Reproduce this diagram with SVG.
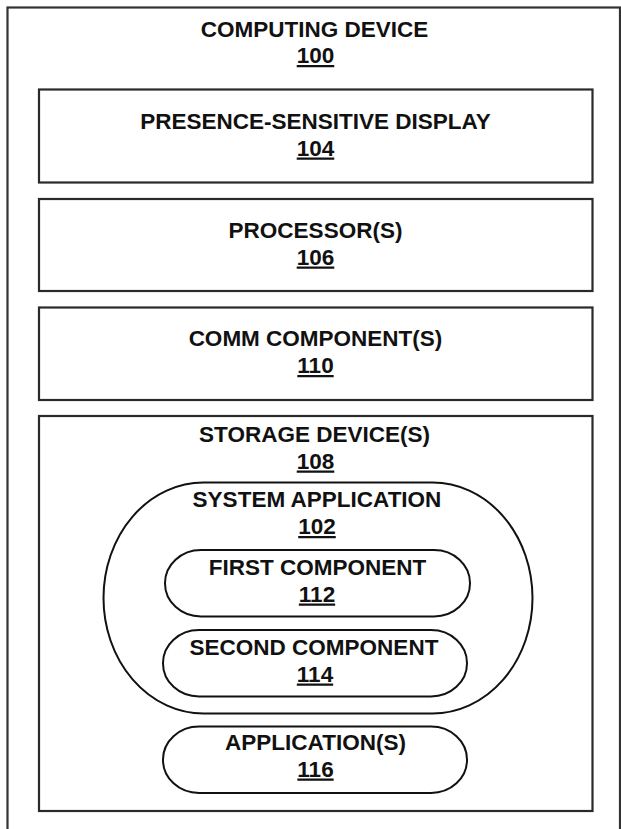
<svg xmlns="http://www.w3.org/2000/svg" width="621" height="829" viewBox="0 0 621 829">
  <style>
    .box { fill: none; stroke: #2a2a2a; stroke-width: 2.2; }
    .pill { fill: none; stroke: #111; stroke-width: 2; }
    .outer { fill: none; stroke: #333; stroke-width: 2.2; }
    text { font-family: "Liberation Sans", Arial, sans-serif; font-weight: bold; font-size: 22.5px; fill: #111; text-anchor: middle; }
    .num { text-decoration: underline; }
  </style>
  <rect width="621" height="829" fill="#ffffff"/>
  <g id="computing-device-100">
    <rect class="outer" x="7.5" y="7.5" width="612.5" height="824"/>
    <text x="314.5" y="36.5">COMPUTING DEVICE</text>
    <text class="num" x="315.5" y="63">100</text>
  </g>
  <g id="presence-sensitive-display-104">
    <rect class="box" x="39" y="89.5" width="553.5" height="93"/>
    <text x="315.5" y="128.5">PRESENCE-SENSITIVE DISPLAY</text>
    <text class="num" x="315.5" y="155.5">104</text>
  </g>
  <g id="processors-106">
    <rect class="box" x="39" y="199" width="553.5" height="92"/>
    <text x="315.5" y="237.5">PROCESSOR(S)</text>
    <text class="num" x="315.5" y="264.5">106</text>
  </g>
  <g id="comm-components-110">
    <rect class="box" x="39" y="307.5" width="553.5" height="92.5"/>
    <text x="315.5" y="346">COMM COMPONENT(S)</text>
    <text class="num" x="315.5" y="373">110</text>
  </g>
  <g id="storage-devices-108">
    <rect class="box" x="39" y="416" width="553.5" height="395"/>
    <text x="314.5" y="442">STORAGE DEVICE(S)</text>
    <text class="num" x="315.5" y="468.5">108</text>
  </g>
  <g id="system-application-102">
    <rect class="pill" x="103.5" y="482.5" width="429" height="231" rx="100" ry="115.5"/>
    <text x="317" y="506.5">SYSTEM APPLICATION</text>
    <text class="num" x="317" y="534">102</text>
  </g>
  <g id="first-component-112">
    <rect class="pill" x="165" y="550" width="305" height="66.5" rx="36" ry="33"/>
    <text x="317.5" y="575">FIRST COMPONENT</text>
    <text class="num" x="317" y="601.5">112</text>
  </g>
  <g id="second-component-114">
    <rect class="pill" x="163" y="630" width="304" height="66.5" rx="36" ry="33"/>
    <text x="314" y="654.5">SECOND COMPONENT</text>
    <text class="num" x="315" y="681.5">114</text>
  </g>
  <g id="applications-116">
    <rect class="pill" x="163" y="726.5" width="304" height="66.5" rx="36" ry="33"/>
    <text x="315.5" y="750">APPLICATION(S)</text>
    <text class="num" x="315.5" y="776.5">116</text>
  </g>
  <g id="connectors"></g>
</svg>
